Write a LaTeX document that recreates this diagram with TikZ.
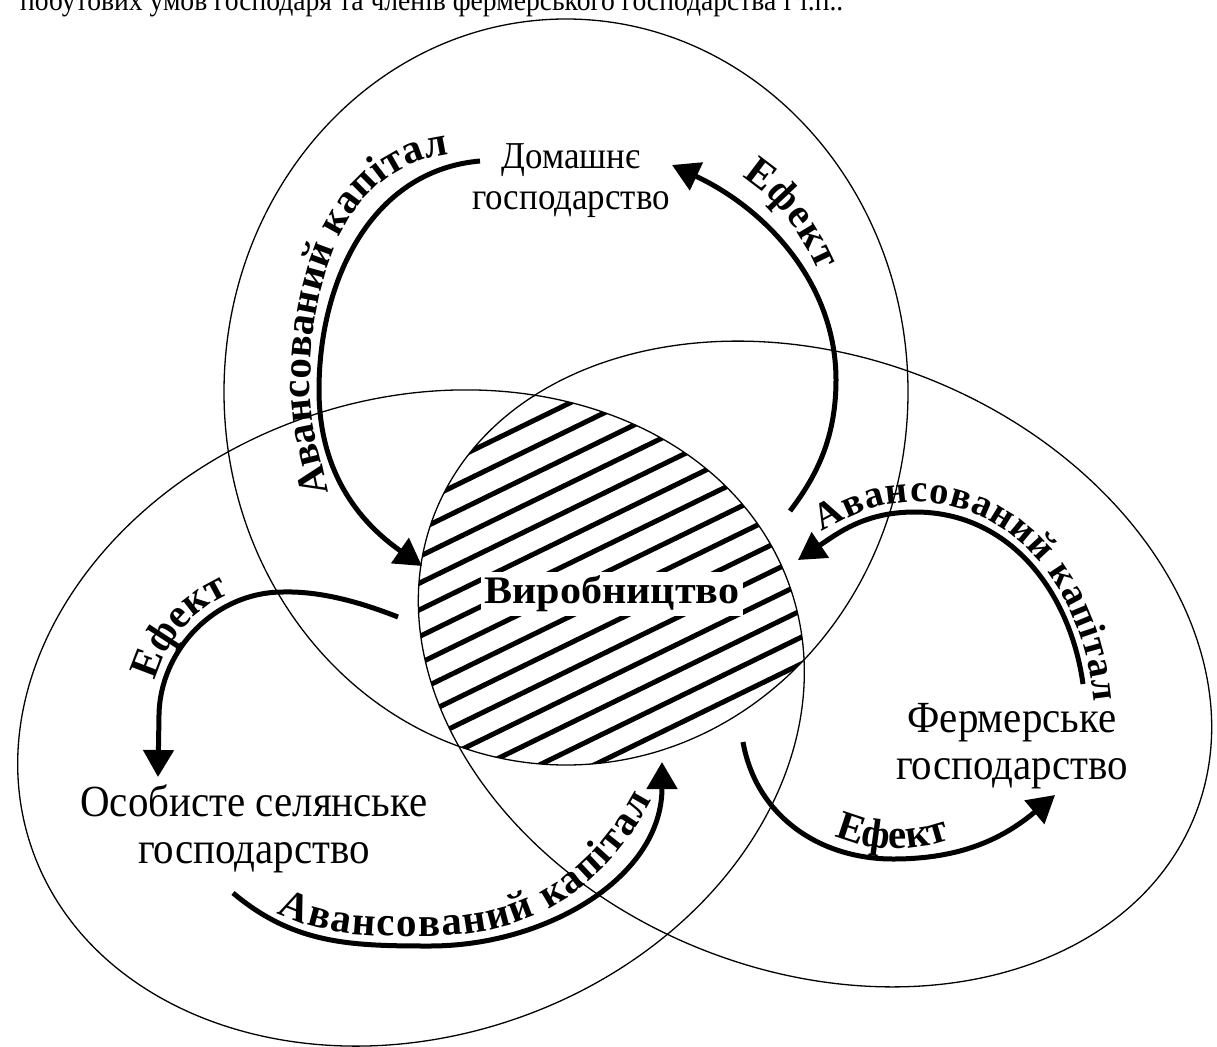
\documentclass[tikz,border=0pt]{standalone}
\usepackage{fontspec}
\setmainfont{Liberation Serif}[FakeStretch=0.92]
\newfontfamily\vyrfont{Liberation Serif}[FakeStretch=1.08]
\newfontfamily\labelfont{Liberation Serif}
\usetikzlibrary{arrows.meta,decorations.text,calc}

\tikzset{
  ell/.style={line width=1.3pt, black},
  hatchline/.style={line width=5pt, black},
  flow/.style={line width=5pt, -{Triangle[length=27pt,width=30pt]}},
  flowtext/.style 2 args={decoration={text along path,
      text={|\labelfont\bfseries\fontsize{#2}{#2}\selectfont|#1},
      text align={fit to path}}, decorate},
  household/.style={align=center, font=\fontsize{44.5}{47}\selectfont, inner sep=2pt},
  smallhouse/.style={align=center, font=\fontsize{38}{41}\selectfont, inner sep=2pt},
  centre/.style={font=\vyrfont\bfseries\fontsize{39}{44}\selectfont, fill=white, inner sep=4pt},
}

\begin{document}
\begin{tikzpicture}[x=1pt,y=1pt]
\useasboundingbox (0,0) rectangle (1217,-1046);
\fill[white] (0,0) rectangle (1217,-1046);

% top clipped line of running text
\node[anchor=base west, font=\fontsize{30}{30}\selectfont, inner sep=0pt] (toptext) at (20,-11)
  {побутових умов господаря та членів фермерського господарства і т.п..};

% hatched common part
\begin{scope}
  \clip (566,-392) ellipse [x radius=342pt, y radius=373pt];
  \clip[rotate around={18.8:(411,-718)}] (411,-718) ellipse [x radius=401pt, y radius=318.5pt];
  \clip[rotate around={-21.7:(815,-664)}] (815,-664) ellipse [x radius=409pt, y radius=307pt];
  \foreach \i in {-10,...,10} {
    \draw[hatchline] ($(612,-596)+(\i*24*0.4384,-\i*24*0.8988)+(-450*0.8988,-450*0.4384)$)
      -- ++(900*0.8988,900*0.4384);
  }
\end{scope}

% three ellipses
\draw[ell] (566,-392) ellipse [x radius=342pt, y radius=373pt];
\draw[ell, rotate around={18.8:(411,-718)}] (411,-718) ellipse [x radius=401pt, y radius=318.5pt];
\draw[ell, rotate around={-21.7:(815,-664)}] (815,-664) ellipse [x radius=409pt, y radius=307pt];

% text nodes
\node[centre] (vyr) at (612,-594) {Виробництво};
\node[smallhouse] (dom) at (571,-181) {Домашнє\\господарство};
\node[household] (ferm) at (1012,-746) {Фермерське\\господарство};
\node[household] (osob) at (254,-829) {Особисте селянське\\господарство};

% connector coordinates
\coordinate (a1s) at (480,-161); \coordinate (a1m) at (319,-390); \coordinate (a1e) at (422,-566);
\coordinate (a2s) at (790,-511); \coordinate (a2m) at (836,-380); \coordinate (a2e) at (672,-165);
\coordinate (a3s) at (1083,-684); \coordinate (a3m) at (915,-512); \coordinate (a3e) at (798,-560);
\coordinate (a4s) at (743,-742); \coordinate (a4m) at (893,-859); \coordinate (a4e) at (1055,-795);
\coordinate (a5s) at (233,-893); \coordinate (a5m) at (430,-946); \coordinate (a5e) at (662,-762);
\coordinate (a6s) at (398,-617); \coordinate (a6m) at (283,-592); \coordinate (a6k) at (159,-715);
\coordinate (a6e) at (158,-777);

% arrows
\draw[flow] (a1s) to[out=185,in=90] (a1m) to[out=-90,in=145] (a1e);
\draw[flow] (a2s) .. controls (815,-478) and (836,-440) .. (a2m)
                  .. controls (836,-285) and (768,-210) .. (a2e);
\draw[flow] (a3s) to[out=98,in=0] (a3m) to[out=180,in=34] (a3e);
\draw[flow] (a4s) to[out=-80,in=180] (a4m) to[out=0,in=-140] (a4e);
\draw[flow] (a5s) to[out=-40,in=180] (a5m) to[out=0,in=-90] (a5e);
\draw[flow] (a6s) .. controls (360,-602) and (320,-591) .. (a6m)
                  .. controls (215,-592) and (160,-650) .. (a6k) -- (a6e);

% labels along arrows (their own baselines)
\path[flowtext={Авансований капітал}{41}] (328,-493) to[out=100,in=-90] (310,-390) to[out=90,in=186] (449,-155);
\path[flowtext={Ефект}{41}] (742,-177) arc[start angle=66, end angle=32, x radius=172, y radius=244];
\path[flowtext={Авансований капітал}{38.5}] (822,-532) to[out=28,in=180] (915,-502) to[out=0,in=95] (1094,-702);
\path[flowtext={Ефект}{41}] (835,-836) .. controls (868,-851) and (912,-853) .. (948,-840);
\path[flowtext={Авансований капітал}{41}] (277,-913) to[out=-25,in=180] (430,-936) to[out=0,in=-118] (652,-800);
\path[flowtext={Ефект}{41}] (155.5,-680.8) arc[start angle=165, end angle=115, radius=132];
\end{tikzpicture}
\end{document}
